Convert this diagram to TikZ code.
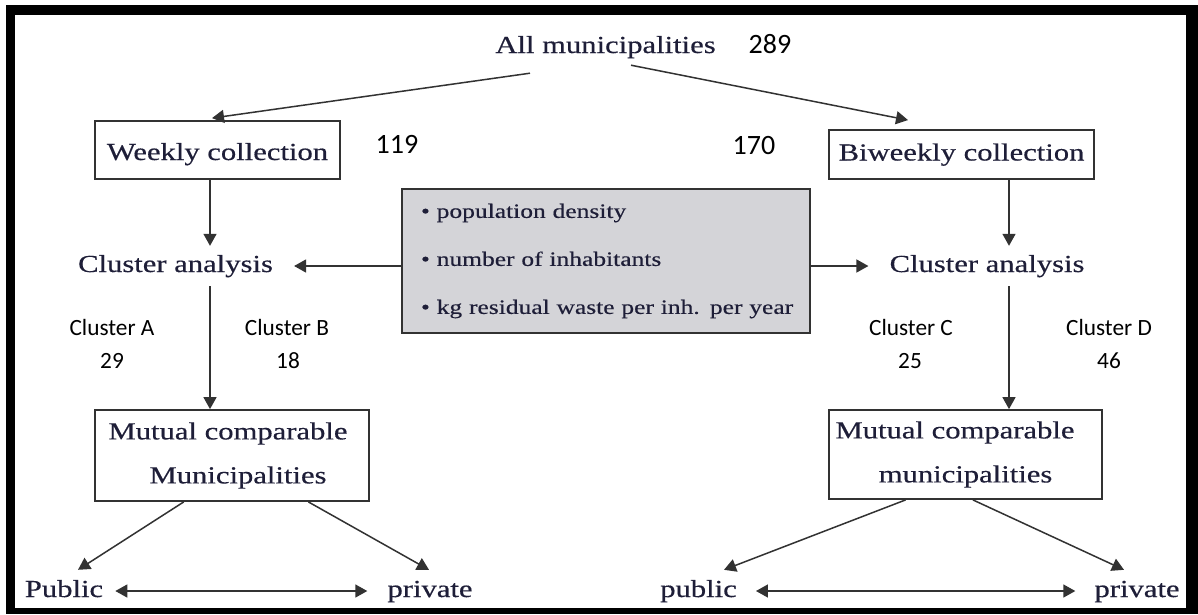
\documentclass[tikz,border=0pt]{standalone}
\usepackage{fontspec}
\setmainfont[FakeStretch=1.25,FakeBold=0.4]{Liberation Serif}
\newfontfamily\calib{Carlito}
\usetikzlibrary{arrows.meta,calc}
\definecolor{ink}{RGB}{30,30,56}
\definecolor{linegray}{RGB}{50,50,50}
\definecolor{panel}{RGB}{212,212,216}

\begin{document}
\begin{tikzpicture}[x=1pt,y=1pt,
  txt/.style={font=\fontsize{24.5}{44}\selectfont, text=ink, inner sep=0pt},
  lbl/.style={txt, text height=17pt, text depth=5pt},
  frame/.style={draw=linegray, line width=1.8pt},
  arr/.style={draw=linegray, line width=1.5pt, -{Triangle[length=12pt,width=13pt]}},
  dbl/.style={draw=linegray, line width=1.5pt, {Triangle[length=12pt,width=13pt]}-{Triangle[length=12pt,width=13pt]}},
  num/.style={font=\calib\fontsize{28}{30}\selectfont, inner sep=0pt},
  clab/.style={font=\calib\fontsize{23.3}{25}\selectfont, inner sep=0pt}]

\useasboundingbox (0,0) rectangle (1198,-614);
% thick outer frame
\fill[black] (6,-5) rectangle (1198,-614);
\fill[white] (15,-15) rectangle (1186,-608);

% top level
\node[lbl, anchor=base] (all) at (605.5,-53) {All municipalities};
\node[num, anchor=base] (n289) at (770,-53) {289};

% collection frequency
\node[lbl, frame, text height=25pt, minimum width=245pt, minimum height=58pt] (weekly) at (217.5,-150) {Weekly collection};
\node[lbl, frame, minimum width=265pt, minimum height=49pt] (biweekly) at (961.5,-154.5) {Biweekly collection};
\node[num, anchor=base] (n119) at (397,-153) {119};
\node[num, anchor=base] (n170) at (754,-154) {170};

% clustering
\node[lbl, inner xsep=21pt, inner ysep=9pt, anchor=base] (clusterL) at (175.5,-272) {Cluster analysis};
\node[lbl, inner xsep=21pt, inner ysep=9pt, anchor=base] (clusterR) at (987,-272) {Cluster analysis};

% clustering variables
\node[frame, fill=panel, text=ink, minimum width=408pt, minimum height=144pt,
      text width=385pt, align=left, inner xsep=11.5pt, inner ysep=0pt,
      font=\fontsize{20.4}{48}\selectfont] (factors) at (606,-261)
  {\hspace*{7.5pt}\textbullet\ population density\\
   \hspace*{7.5pt}\textbullet\ number of inhabitants\\
   \hspace*{7.5pt}\textbullet\ kg residual waste per inh. per year};

% cluster sizes
\node[clab, anchor=base] (cA) at (112,-335) {Cluster A};
\node[clab, anchor=base] (nA) at (112,-368) {29};
\node[clab, anchor=base] (cB) at (287,-335) {Cluster B};
\node[clab, anchor=base] (nB) at (288,-368) {18};
\node[clab, anchor=base] (cC) at (911,-335) {Cluster C};
\node[clab, anchor=base] (nC) at (910,-368) {25};
\node[clab, anchor=base] (cD) at (1109,-335) {Cluster D};
\node[clab, anchor=base] (nD) at (1109,-368) {46};

% comparable groups
\node[txt, frame, align=center, minimum width=274pt, minimum height=91pt] (mutualL) at (232,-455.5)
  {Mutual comparable\hspace*{8pt}\\\hspace*{12pt}Municipalities};
\node[txt, frame, align=center, minimum width=273pt, minimum height=89pt] (mutualR) at (965.5,-454.5)
  {Mutual comparable\hspace*{21pt}\\municipalities};

% ownership
\node[lbl, anchor=base] (pubL) at (64,-597) {Public};
\node[lbl, anchor=base] (privL) at (430,-597) {private};
\node[lbl, anchor=base] (pubR) at (698.5,-597) {public};
\node[lbl, anchor=base] (privR) at (1137,-597) {private};

\coordinate (xL) at (210,0);
\coordinate (xR) at (1009,0);

% connectors
\draw[arr] ([shift={(-75.5,-15)}]all.south) -- ([shift={(-5.5,2)}]weekly.north);
\draw[arr] ([shift={(25.5,-7)}]all.south) -- ([shift={(-53.5,9)}]biweekly.north);

\draw[arr] (weekly.south -| xL) -- (clusterL.north -| xL);
\draw[arr] (biweekly.south -| xR) -- (clusterR.north -| xR);

\draw[arr] (factors.west |- clusterL) -- (clusterL.east);
\draw[arr] (factors.east |- clusterR) -- (clusterR.west);

\draw[arr] (clusterL.south -| xL) -- (mutualL.north -| xL);
\draw[arr] (clusterR.south -| xR) -- (mutualR.north -| xR);

\draw[arr] ($(mutualL.south west)!0.325!(mutualL.south east)$) -- ([shift={(14,10)}]pubL.north);
\draw[arr] ($(mutualL.south west)!0.777!(mutualL.south east)$) -- ([shift={(-1,10)}]privL.north);
\draw[arr] ($(mutualR.south west)!0.282!(mutualR.south east)$) -- ([shift={(25.5,10)}]pubR.north);
\draw[arr] ($(mutualR.south west)!0.527!(mutualR.south east)$) -- ([shift={(-13,10)}]privR.north);

\draw[dbl] ([xshift=12pt]pubL.east) -- ([xshift=-20pt]privL.west);
\draw[dbl] ([xshift=19pt]pubR.east) -- ([xshift=-19pt]privR.west);
\end{tikzpicture}
\end{document}
